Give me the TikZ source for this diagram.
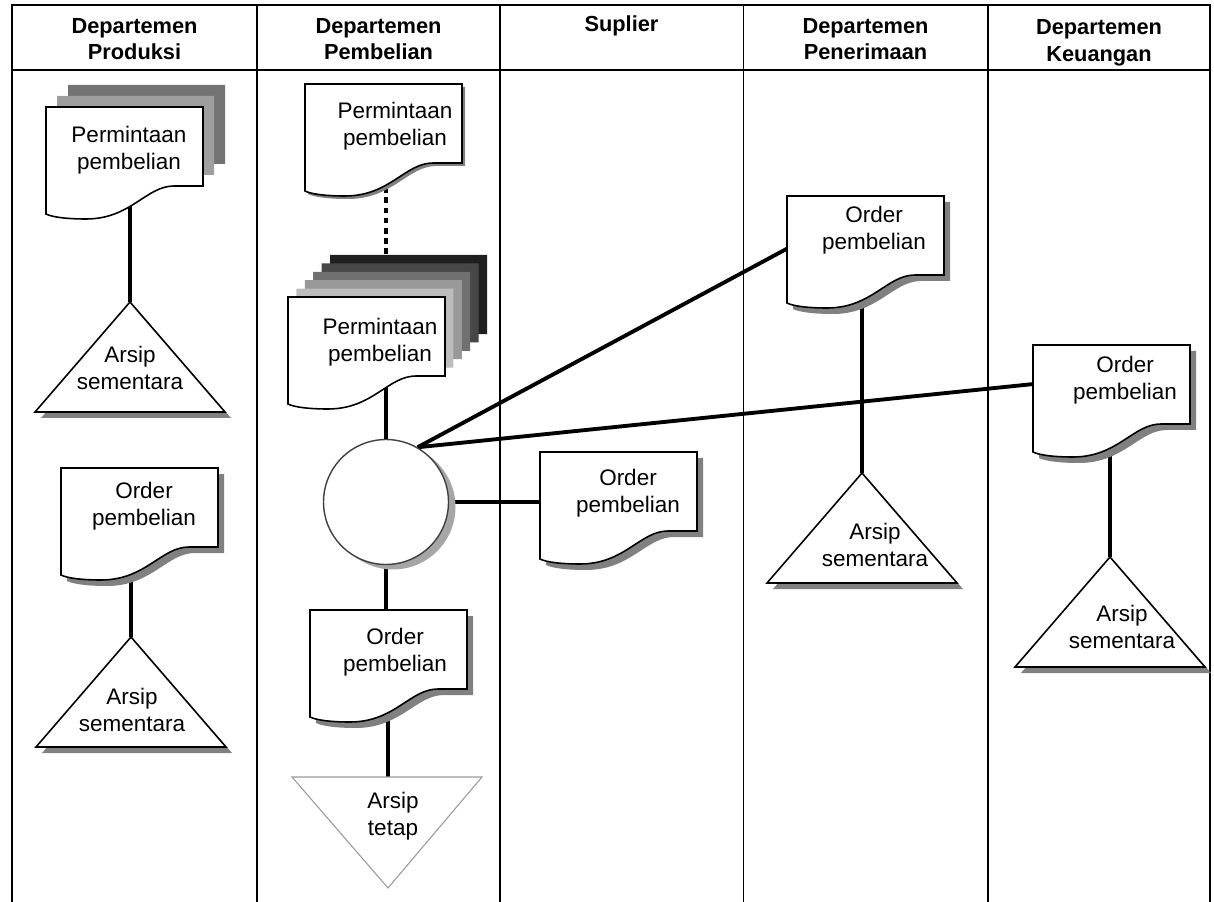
\documentclass[tikz,border=0pt]{standalone}
\usepackage{fontspec}
\setmainfont{Liberation Sans}
\usetikzlibrary{backgrounds,shadows}

% outline of a document sheet, top left corner at (0,0)
\newcommand{\docpath}{(0,0) -- (157,0) -- (157,79) -- (128,79) .. controls (100,79) and (85,112) .. (40,112) .. controls (20,112) and (6,110) .. (0,107) -- cycle}
% archive triangle, apex at (0,0)
\newcommand{\tripath}{(0,0) -- (95,110) -- (-95,110) -- cycle}

\begin{document}
\begin{tikzpicture}[x=0.02cm, y=-0.02cm,
    every node/.style={font=\fontsize{12.8}{15.1}\selectfont, align=center, inner sep=0pt},
    head/.style={font=\fontsize{12.4}{15.1}\selectfont\bfseries},
    doc/.style={draw, fill=white, line width=0.9pt},
    shadowed/.style={drop shadow={shadow xshift=0.12cm, shadow yshift=-0.12cm, fill=black!50, opacity=1}},
    link/.style={line width=2.2pt},
    dotlink/.style={link, dash pattern=on 3.2pt off 2.6pt}]
    \useasboundingbox (0,0) rectangle (1214,902);

    % Table
    \draw[line width=1pt] (12,902) -- (12,5) -- (1210,5) -- (1210,902);
    \draw[line width=1pt] (12,70) -- (1210,70);
    \foreach \x in {257,500,743.5,988}
        \draw[line width=0.8pt] (\x,5) -- (\x,902);

    % Column headers
    \node[head] (hProd) at (134.5,39) {Departemen\\Produksi};
    \node[head] (hBuy) at (378.5,39) {Departemen\\Pembelian};
    \node[head] (hSup) at (621.5,26) {Suplier};
    \node[head] (hRecv) at (865.5,39) {Departemen\\Penerimaan};
    \node[head] (hFin) at (1099,43) {Departemen\\Keuangan};

    % Departemen Produksi
    \begin{scope}[shift={(46,107)}]
        \fill[black!55, shift={(22,-22)}] \docpath;
        \fill[black!38, shift={(11,-11)}] \docpath;
        \filldraw[doc] \docpath;
        \node (prodReq) at (83,43) {Permintaan\\pembelian};
    \end{scope}
    \begin{scope}[shift={(130,302)}]
        \filldraw[doc, shadowed] \tripath;
        \coordinate (prodTop1) at (0,0);
        \node (prodArsip1) at (0,66) {Arsip\\sementara};
    \end{scope}
    \begin{scope}[shift={(61,468)}]
        \filldraw[doc, shadowed] \docpath;
        \node (prodOrder) at (83,38) {Order\\pembelian};
    \end{scope}
    \begin{scope}[shift={(131,637)}]
        \filldraw[doc, shadowed] \tripath;
        \coordinate (prodTop2) at (0,0);
        \node (prodArsip2) at (1,73) {Arsip\\sementara};
    \end{scope}

    % Departemen Pembelian
    \begin{scope}[shift={(305,84)}]
        \filldraw[doc, drop shadow={shadow xshift=0.06cm, shadow yshift=-0.06cm, fill=black!50, opacity=1}] \docpath;
        \node (buyReq) at (90,42) {Permintaan\\pembelian};
    \end{scope}
    \begin{scope}[shift={(288,297)}]
        \foreach \i/\c in {5/88,4/72,3/56,2/40,1/26}
            \fill[black!\c, shift={(8.4*\i,-8.4*\i)}] \docpath;
        \filldraw[doc] \docpath;
        \node (buyReq2) at (92,45) {Permintaan\\pembelian};
    \end{scope}
    \node[circle, draw=black!75, fill=white, line width=0.8pt, minimum size=2.5cm,
        drop shadow={shadow xshift=0.14cm, shadow yshift=-0.1cm, fill=black!35, opacity=1}] (circ) at (386,502) {};
    \begin{scope}[shift={(310,610)}]
        \filldraw[doc, shadowed] \docpath;
        \node (buyOrder) at (85,42) {Order\\pembelian};
    \end{scope}
    \begin{scope}[shift={(388,777)}]
        \filldraw[fill=white, draw=black!40, line width=0.6pt] (-96,0) -- (94,0) -- (0,111) -- cycle;
        \coordinate (buyTop) at (0,0);
        \node (buyArsip) at (5,39) {Arsip\\tetap};
    \end{scope}

    % Suplier
    \begin{scope}[shift={(540,452)}]
        \filldraw[doc, shadowed] \docpath;
        \node (supOrder) at (88,41) {Order\\pembelian};
    \end{scope}

    % Departemen Penerimaan
    \begin{scope}[shift={(787,196)}]
        \filldraw[doc, shadowed] \docpath;
        \node (recvOrder) at (87,34) {Order\\pembelian};
    \end{scope}
    \begin{scope}[shift={(862,473)}]
        \filldraw[doc, shadowed] \tripath;
        \coordinate (recvTop) at (0,0);
        \node (recvArsip) at (13,72) {Arsip\\sementara};
    \end{scope}

    % Departemen Keuangan
    \begin{scope}[shift={(1033,345)}]
        \filldraw[doc, shadowed] \docpath;
        \node (finOrder) at (92,35) {Order\\pembelian};
    \end{scope}
    \begin{scope}[shift={(1110,557)}]
        \filldraw[doc, shadowed] \tripath;
        \coordinate (finTop) at (0,0);
        \node (finArsip) at (12,70) {Arsip\\sementara};
    \end{scope}

    % Connectors
    \begin{pgfonlayer}{background}
        \draw[link] (prodReq.center -| prodTop1) -- (prodTop1);
        \draw[link] (prodOrder.center -| prodTop2) -- (prodTop2);
        \draw[dotlink] (buyReq.center -| circ) -- (buyReq2.center -| circ);
        \draw[link] (buyReq2.center -| circ) -- (circ);
        \draw[link] (circ) -- (buyOrder.center -| circ);
        \draw[link] (buyOrder.center -| buyTop) -- (buyTop);
        \draw[link] (circ.east) -- (circ.east -| supOrder.west);
        \draw[link] (circ.60) -- (recvOrder.west);
        \draw[link] (circ.60) -- (finOrder.west);
        \draw[link] (recvOrder.center -| recvTop) -- (recvTop);
        \draw[link] (finOrder.center -| finTop) -- (finTop);
    \end{pgfonlayer}
\end{tikzpicture}
\end{document}
